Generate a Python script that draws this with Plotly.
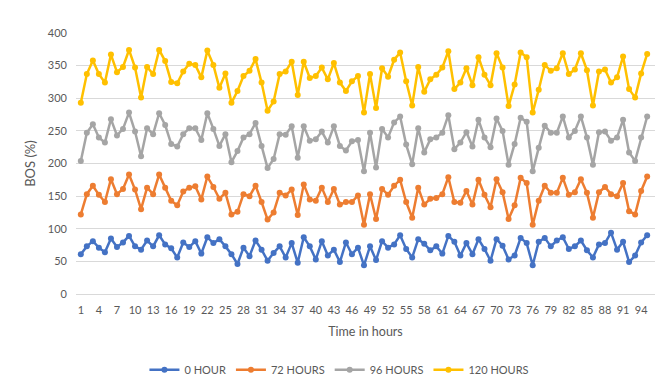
import plotly.graph_objects as go

hours = list(range(1, 96))

hour0 = [61,73,81,71,64,85,72,79,89,73,68,82,73,90,76,70,56,79,72,
         81,62,87,78,84,73,61,46,71,58,82,68,51,63,73,56,78,48,87,73,
         53,81,59,68,49,79,61,71,44,73,52,81,71,76,90,69,56,84,77,67,
         73,62,89,80,59,78,61,84,69,51,84,74,53,59,86,78,44,80,86,73,
         82,87,69,73,82,67,56,76,78,94,68,80,49,59,79,90]

hour72 = [122,153,166,152,141,176,153,161,183,160,130,163,153,183,163,143,136,157,163,
          165,145,180,164,146,155,122,126,153,150,166,141,114,125,155,151,160,121,168,145,
          143,163,141,161,137,141,141,151,106,153,115,161,152,166,175,141,117,163,137,146,
          147,153,179,141,140,158,137,175,152,133,176,156,115,136,178,170,106,143,166,155,
          155,178,152,156,176,155,117,156,164,153,150,170,127,122,158,180]

hour96 = [204,247,260,240,232,268,243,253,278,249,211,254,245,277,259,230,226,245,254,
          254,236,277,253,227,245,202,219,240,245,262,227,193,207,245,244,257,209,257,235,
          237,249,232,257,227,220,234,236,188,247,194,253,240,263,272,229,199,254,217,237,
          240,247,274,222,232,248,226,267,240,225,269,250,198,230,270,264,188,224,258,247,
          247,272,240,250,272,240,198,248,249,235,240,267,217,204,240,272]

hour120 = [293,337,358,337,324,367,340,348,374,347,301,348,337,374,357,325,323,341,353,
           351,332,373,351,316,338,293,311,334,342,360,324,281,295,337,341,356,305,356,331,
           334,347,329,354,324,311,326,334,278,337,285,346,333,359,370,326,289,348,310,329,
           336,347,372,314,324,346,320,363,336,320,369,347,288,321,370,363,278,313,351,342,
           346,369,337,344,369,343,289,341,344,324,332,364,314,301,338,368]

series = [("0 HOUR", hour0, "#4472C4"),
          ("72 HOURS", hour72, "#ED7D31"),
          ("96 HOURS", hour96, "#A5A5A5"),
          ("120 HOURS", hour120, "#FFC000")]

x_ticks = list(range(1, 96, 3))
y_ticks = list(range(0, 401, 50))

fig = go.Figure()
for name, vals, color in series:
    fig.add_trace(go.Scatter(
        x=hours, y=vals, name=name, mode="lines+markers",
        line=dict(color=color, width=2.5),
        marker=dict(color=color, size=6, symbol="circle"),
    ))

font_color = "#595959"
fig.update_layout(
    width=672, height=388,
    margin=dict(l=68, r=25, t=25, b=93),
    paper_bgcolor="white", plot_bgcolor="white",
    font=dict(family="Lato, Open Sans, sans-serif", size=11, color=font_color),
    showlegend=True,
    legend=dict(orientation="h", x=0.455, xanchor="center", y=-0.29, yanchor="middle",
                font=dict(size=11, color=font_color), itemwidth=30,
                tracegroupgap=0),
    xaxis=dict(range=[0.2, 96.3], tickmode="array", tickvals=x_ticks,
               ticktext=[str(t) for t in x_ticks], showgrid=False,
               showline=True, linecolor="#D9D9D9", linewidth=1, ticks="",
               zeroline=False, automargin=False, ticklabelstandoff=6,
               tickfont=dict(size=11, color=font_color),
               title=dict(text="Time in hours", standoff=12,
                          font=dict(size=12.5, color=font_color))),
    yaxis=dict(range=[0, 400], tickmode="array", tickvals=y_ticks,
               showgrid=True, gridcolor="#D9D9D9", gridwidth=1,
               showline=False, zeroline=False, ticks="",
               automargin=False, ticklabelstandoff=8,
               tickfont=dict(size=11, color=font_color),
               title=dict(text="BOS (%)", standoff=9,
                          font=dict(size=13, color=font_color))),
)
fig.add_shape(type="line", xref="paper", yref="paper",
              x0=1.026, x1=1.026, y0=-0.4, y1=1.1,
              line=dict(color="#D9D9D9", width=1))

fig.write_html("out.html")
